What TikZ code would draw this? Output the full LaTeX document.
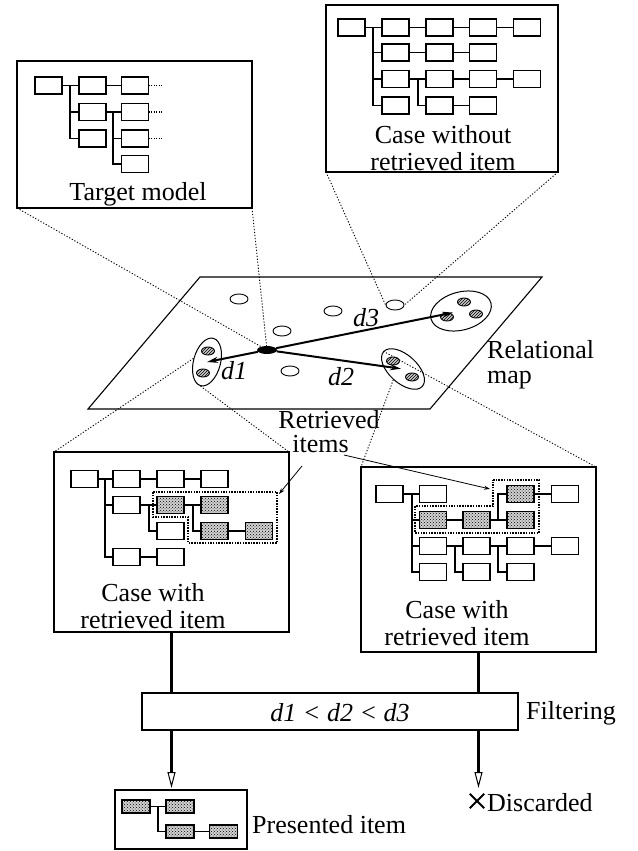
\documentclass[tikz,border=0pt]{standalone}
\usepackage{fontspec}
\setmainfont{Liberation Serif}
\usetikzlibrary{patterns,arrows.meta,shapes.geometric}
\tikzset{
  panel/.style={draw, line width=1.1pt, inner sep=0pt, outer sep=0pt},
  tbox/.style={draw, line width=1.5pt, minimum width=27pt, minimum height=17pt, inner sep=0pt, outer sep=0pt},
  sbox/.style={tbox, preaction={fill=gray!35}, pattern=crosshatch dots},
  psbox/.style={sbox, minimum width=28pt, minimum height=13pt},
  link/.style={line width=1.5pt},
  ellip/.style={line width=1.1pt, dash pattern=on 1pt off 1.5pt},
  proj/.style={line width=0.9pt, dash pattern=on 1.2pt off 1.8pt},
  region/.style={line width=2pt, dash pattern=on 1.5pt off 1.2pt},
  lbl/.style={inner sep=0pt, font=\fontsize{26}{26}\selectfont},
  dlbl/.style={lbl, font=\fontsize{26}{26}\selectfont\itshape},
  spot/.style={draw, ellipse, line width=0.9pt, minimum width=18pt, minimum height=10pt, inner sep=0pt},
  hatch/.style={draw, ellipse, line width=0.9pt, minimum width=13pt, minimum height=8pt, inner sep=0pt, preaction={fill=gray!40}, pattern=north east lines},
  clus/.style={draw, ellipse, line width=1pt, inner sep=0pt},
  darr/.style={line width=2pt, -{Stealth[length=11pt,width=6pt]}},
  flow/.style={line width=2.6pt},
  flowtip/.style={line width=2.6pt, -{Triangle[open,length=16pt,width=8pt,line width=1pt]}},
  lead/.style={line width=0.8pt, -{Stealth[length=6pt,width=4pt]}},
}
\begin{document}
\begin{tikzpicture}[x=1pt,y=-1pt]
\useasboundingbox (0,0) rectangle (637,851);

% ---------- panels ----------
\node[panel, minimum width=235pt, minimum height=147pt] (tgt) at (134.5,134.5) {};
\node[panel, minimum width=232pt, minimum height=167pt] (cwo) at (442,88.5) {};
\node[panel, minimum width=235pt, minimum height=180pt] (lcase) at (171.5,542) {};
\node[panel, minimum width=235pt, minimum height=185pt] (rcase) at (478.5,559.5) {};
\node[panel, minimum width=376pt, minimum height=37pt] (filt) at (330,711.5) {};
\node[panel, minimum width=132pt, minimum height=59pt] (pres) at (181,819.5) {};

% ---------- target model tree ----------
\node[tbox] (ta1) at (48.5,85.5) {};
\node[tbox] (ta2) at (92.5,85.5) {};
\node[tbox] (ta3) at (135,85.5) {};
\node[tbox] (tb2) at (92.5,112) {};
\node[tbox] (tb3) at (135,112) {};
\node[tbox] (tc2) at (92.5,138.5) {};
\node[tbox] (tc3) at (135,138.5) {};
\node[tbox] (td3) at (135,164) {};
\coordinate (tj1) at (70,85.5);
\coordinate (tj2) at (113,112);
\draw[link] (ta1) -- (ta2) -- (ta3);
\draw[link] (tj1) |- (tb2);
\draw[link] (tj1) |- (tc2);
\draw[link] (tb2) -- (tb3);
\draw[link] (tj2) |- (tc3);
\draw[link] (tj2) |- (td3);
\foreach \n in {ta3,tb3,tc3} \draw[ellip] (\n.east) -- ++(14,0);
\node[lbl] (tgtlbl) at (138,194) {Target model};

% ---------- case without retrieved item ----------
\node[tbox] (wa0) at (351.5,27.5) {};
\node[tbox] (wa1) at (395.5,27.5) {};
\node[tbox] (wa2) at (439.5,27.5) {};
\node[tbox] (wa3) at (483,27.5) {};
\node[tbox] (wa4) at (527,27.5) {};
\node[tbox] (wb1) at (395.5,52.5) {};
\node[tbox] (wb2) at (439.5,52.5) {};
\node[tbox] (wb3) at (483,52.5) {};
\node[tbox] (wc1) at (395.5,79) {};
\node[tbox] (wc2) at (439.5,79) {};
\node[tbox] (wc3) at (483,79) {};
\node[tbox] (wc4) at (527,79) {};
\node[tbox] (wd1) at (395.5,105.5) {};
\node[tbox] (wd2) at (439.5,105.5) {};
\node[tbox] (wd3) at (483,105.5) {};
\coordinate (wj1) at (373,27.5);
\coordinate (wj2) at (418,79);
\draw[link] (wa0) -- (wa1) -- (wa2) -- (wa3) -- (wa4);
\draw[link] (wj1) |- (wb1);
\draw[link] (wj1) |- (wc1);
\draw[link] (wj1) |- (wd1);
\draw[link] (wb1) -- (wb2) -- (wb3);
\draw[link] (wc1) -- (wc2) -- (wc3) -- (wc4);
\draw[link] (wj2) |- (wd2);
\draw[link] (wd2) -- (wd3);
\node[lbl, align=center, font=\fontsize{26}{27}\selectfont] (cwolbl) at (443,148) {Case without\\retrieved item};

% ---------- relational map ----------
\draw[line width=1.1pt] (200,277) -- (542,277) -- (430,409) -- (88,409) -- cycle;
\node[spot] (s1) at (239,299) {};
\node[spot] (s2) at (333,311) {};
\node[spot] (s3) at (282,331) {};
\node[spot] (s4) at (395,305) {};
\node[spot] (s5) at (290,371) {};

\node[clus, minimum width=27pt, minimum height=49pt, rotate=-15] (cl1) at (207,362) {};
\node[hatch] (h11) at (208,351) {};
\node[hatch] (h12) at (203,373) {};
\node[clus, minimum width=52pt, minimum height=28pt, rotate=-42] (cl2) at (403,369) {};
\node[hatch] (h21) at (393,361) {};
\node[hatch] (h22) at (412,377) {};
\node[clus, minimum width=62pt, minimum height=38pt, rotate=15] (cl3) at (461,311) {};
\node[hatch] (h31) at (464,302) {};
\node[hatch] (h32) at (476,314) {};
\node[hatch] (h33) at (447,317) {};

\node[fill, ellipse, minimum width=20pt, minimum height=8pt, inner sep=0pt] (ctr) at (267,350) {};
\draw[darr] (ctr) -- (cl1.center);
\draw[darr, shorten >=2pt] (ctr) -- (cl2.center);
\draw[darr, shorten >=8pt] (ctr) -- (cl3.center);
\node[dlbl] (d1lbl) at (234,371) {d1};
\node[dlbl] (d2lbl) at (341,377) {d2};
\node[dlbl] (d3lbl) at (366,318) {d3};
\node[lbl, anchor=west, align=left, font=\fontsize{26}{25}\selectfont] (rmlbl) at (487,365) {Relational\\map};

% ---------- projection lines ----------
\draw[proj] (tgt.south west) -- (ctr);
\draw[proj] (tgt.south east) -- (ctr);
\draw[proj] (cwo.south west) -- (s4.west);
\draw[proj] (cwo.south east) -- (s4.east);
\draw[proj] (cl1.west) -- (lcase.north west);
\draw[proj] (cl1.south) -- (lcase.north east);
\draw[proj] (cl2.south) -- (rcase.north west);
\draw[proj] (cl2.west) -- (rcase.north east);

% ---------- retrieved items label ----------
\node[lbl, align=left, font=\fontsize{26}{24}\selectfont] (retr) at (329,432) {Retrieved\\\hspace*{14pt}items};
\coordinate (ls) at (302,466);
\coordinate (rs) at (344,455);
\coordinate (lreg) at (279,494);
\coordinate (rreg) at (490,489);
\draw[lead] (ls) -- (lreg);
\draw[lead] (rs) -- (rreg);

% ---------- case with retrieved item (left) ----------
\node[tbox] (la0) at (84.5,479) {};
\node[tbox] (la1) at (126.5,479) {};
\node[tbox] (la2) at (170.5,479) {};
\node[tbox] (la3) at (214.5,479) {};
\node[tbox] (lb1) at (126.5,505) {};
\node[sbox] (lb2) at (170.5,505) {};
\node[sbox] (lb3) at (214.5,505) {};
\node[tbox] (lc2) at (170.5,531) {};
\node[sbox] (lc3) at (214.5,531) {};
\node[sbox] (lc4) at (259,531) {};
\node[tbox] (ld1) at (126.5,557) {};
\node[tbox] (ld2) at (170.5,557) {};
\coordinate (lj1) at (105,479);
\coordinate (lj2) at (149,505);
\coordinate (lj3) at (193,505);
\draw[link] (la0) -- (la1) -- (la2) -- (la3);
\draw[link] (lj1) |- (lb1);
\draw[link] (lj1) |- (ld1);
\draw[link] (lb1) -- (lb2) -- (lb3);
\draw[link] (lj2) |- (lc2);
\draw[link] (lj3) |- (lc3);
\draw[link] (lc3) -- (lc4);
\draw[link] (ld1) -- (ld2);
\draw[region] (153,492) -- (277,492) -- (277,543) -- (188,543) -- (188,517) -- (153,517) -- cycle;
\node[lbl, align=center, font=\fontsize{26}{27}\selectfont] (lcaselbl) at (153,606) {Case with\\retrieved item};

% ---------- case with retrieved item (right) ----------
\node[tbox] (ra0) at (389.5,494) {};
\node[tbox] (ra1) at (433,494) {};
\node[sbox] (ra3) at (520.5,494) {};
\node[tbox] (ra4) at (565,494) {};
\node[sbox] (rb1) at (433,520) {};
\node[sbox] (rb2) at (476.5,520) {};
\node[sbox] (rb3) at (520.5,520) {};
\node[tbox] (rc1) at (433,546) {};
\node[tbox] (rc2) at (476.5,546) {};
\node[tbox] (rc3) at (520.5,546) {};
\node[tbox] (rc4) at (565,546) {};
\node[tbox] (rd1) at (433,572) {};
\node[tbox] (rd2) at (476.5,572) {};
\node[tbox] (rd3) at (520.5,572) {};
\coordinate (rj1) at (412,494);
\coordinate (rj2) at (498,520);
\coordinate (rj3) at (455,546);
\coordinate (rj4) at (498,546);
\draw[link] (ra0) -- (ra1);
\draw[link] (rj1) |- (rb1);
\draw[link] (rj1) |- (rc1);
\draw[link] (rj1) |- (rd1);
\draw[link] (rb1) -- (rb2) -- (rb3);
\draw[link] (rj2) |- (ra3);
\draw[link] (ra3) -- (ra4);
\draw[link] (rc1) -- (rc2) -- (rc3) -- (rc4);
\draw[link] (rj3) |- (rd2);
\draw[link] (rj4) |- (rd3);
\draw[region] (493,480) -- (539,480) -- (539,533) -- (415,533) -- (415,506) -- (493,506) -- cycle;
\node[lbl, align=center, font=\fontsize{26}{27}\selectfont] (rcaselbl) at (457,623) {Case with\\retrieved item};

% ---------- filtering ----------
\node[lbl] (filtlbl) at (340,713) {\itshape d1 < d2 < d3};
\node[lbl, anchor=west] (filtname) at (526,713) {Filtering};
\draw[flow] (lcase.south) -- (lcase.south |- filt.north);
\draw[flow] (rcase.south) -- (rcase.south |- filt.north);
\coordinate (ptip) at (171.5,788);
\coordinate (dtip) at (478.5,788);
\draw[flowtip] (lcase.south |- filt.south) -- (ptip);
\draw[flowtip] (rcase.south |- filt.south) -- (dtip);

% ---------- presented item ----------
\node[psbox] (pa) at (136,806.5) {};
\node[psbox] (pb) at (180,806.5) {};
\node[psbox] (pc) at (180,831.5) {};
\node[psbox] (pd) at (223.5,831.5) {};
\coordinate (pj) at (158,806.5);
\draw[link] (pa) -- (pb);
\draw[link] (pj) |- (pc);
\draw[link] (pc) -- (pd);
\node[lbl, anchor=west] (preslbl) at (252,825) {Presented item};

% ---------- discarded ----------
\node[minimum width=14pt, minimum height=14pt, inner sep=0pt] (xm) at (477,801) {};
\draw[line width=2pt] (xm.north west) -- (xm.south east);
\draw[line width=2pt] (xm.north east) -- (xm.south west);
\node[lbl, anchor=west] (disclbl) at (487,803) {Discarded};
\end{tikzpicture}
\end{document}
